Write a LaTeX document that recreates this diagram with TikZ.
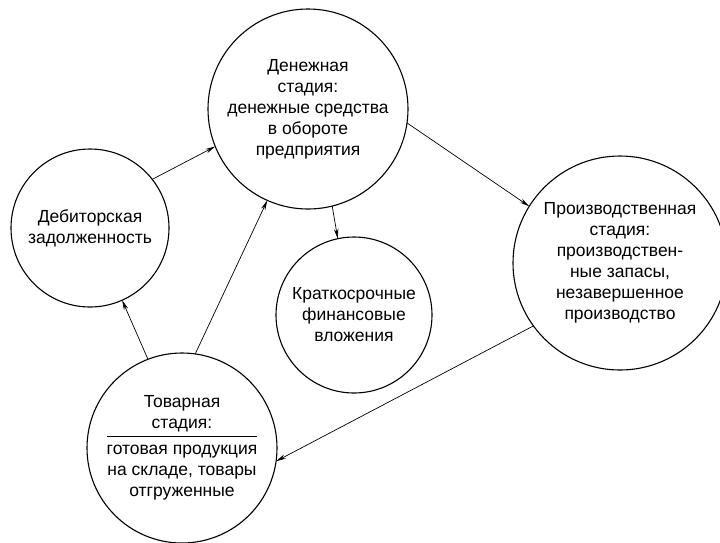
\documentclass[tikz,border=0pt]{standalone}
\usepackage{fontspec}
\setmainfont{Liberation Sans}
\usetikzlibrary{arrows.meta}
\tikzset{
  stage/.style={circle, draw=black, line width=1.1pt, inner sep=0pt, outer sep=0pt},
  stagetext/.style={align=center, font=\fontsize{17.5}{21}\selectfont, inner sep=0pt},
  flow/.style={line width=0.7pt, -{Stealth[length=10pt,width=4.5pt]}}
}
\begin{document}
\begin{tikzpicture}[x=1pt,y=-1pt]
  \useasboundingbox (0,0) rectangle (720,542);
  \fill[white] (0,0) rectangle (720,542);

  % cash stage
  \node[stage, minimum size=200pt,
        label={[stagetext]center:Денежная\\стадия:\\денежные средства\\в обороте\\предприятия}]
        (den) at (308,109) {};
  % receivables
  \node[stage, minimum size=158pt,
        label={[stagetext]center:Дебиторская\\задолженность}]
        (deb) at (90,228) {};
  % short-term investments
  \node[stage, minimum size=156pt,
        label={[stagetext]center:Краткосрочные\\финансовые\\вложения}]
        (krat) at (354,315) {};
  % production stage
  \node[stage, minimum size=214pt,
        label={[stagetext]center:Производственная\\стадия:\\производствен-\\ные запасы,\\незавершенное\\производство}]
        (prod) at (620,263) {};
  % goods stage
  \node[stage, minimum size=190pt,
        label={[stagetext]center:{\def\arraystretch{1.0}\setlength\tabcolsep{0pt}%
          \begin{tabular}{c}Товарная\\стадия:\\[1pt]\hline\rule{0pt}{18pt}готовая продукция\\на складе, товары\\отгруженные\end{tabular}}}]
        (tov) at (182,448) {};

  % circulation of funds
  \draw[flow] (deb.38)   -- (den.202);
  \draw[flow] (den.-8)   -- (prod.148);
  \draw[flow] (den.-76)  -- (krat.102);
  \draw[flow] (prod.216) -- (tov.-8);
  \draw[flow] (tov.111)  -- (deb.-66);
  \draw[flow] (tov.82)   -- (den.246);
\end{tikzpicture}
\end{document}
